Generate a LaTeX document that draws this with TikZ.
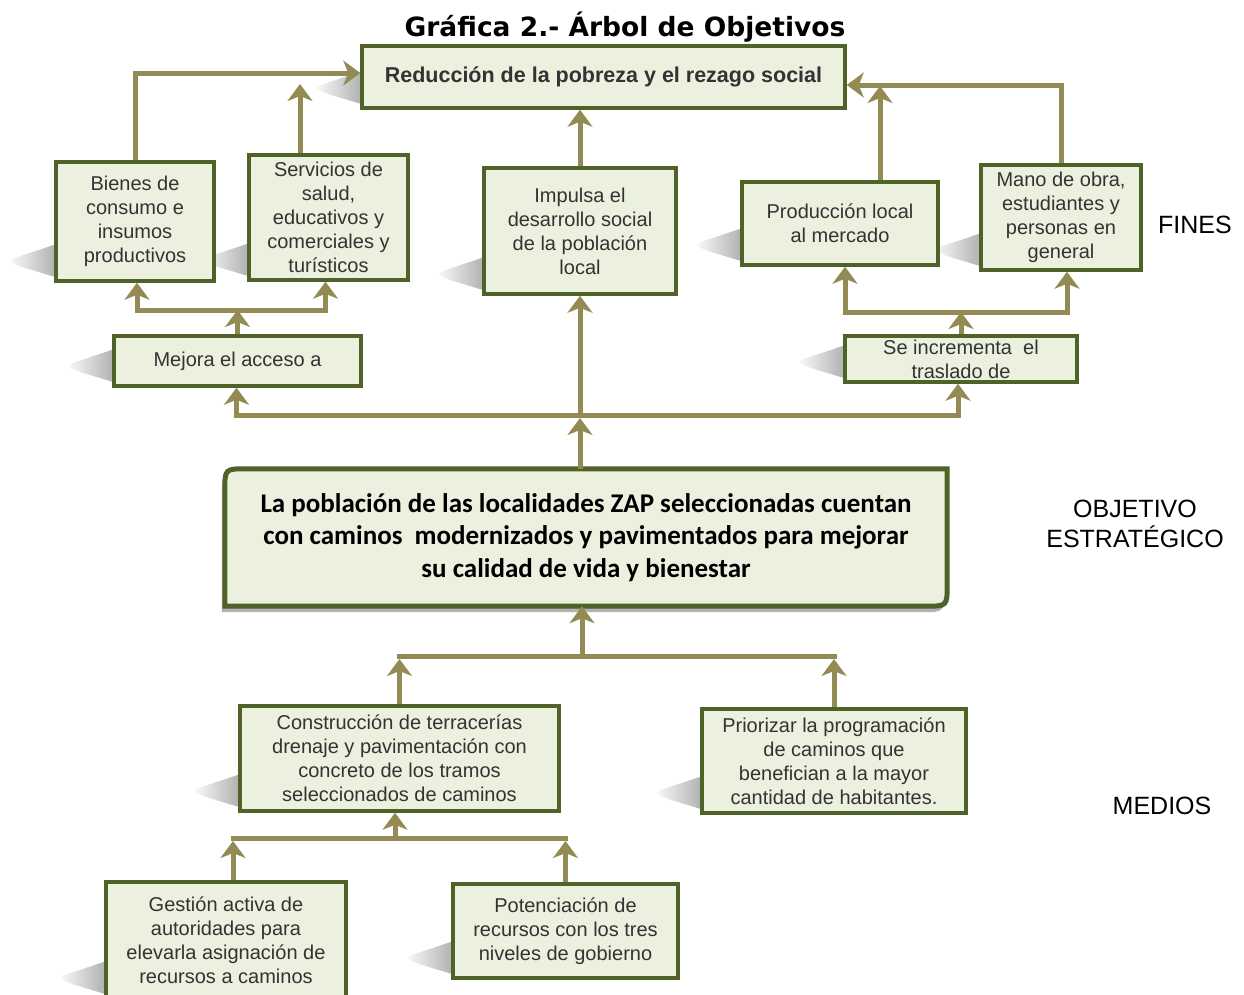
\documentclass[tikz,border=0pt]{standalone}
\usepackage{fontspec}
\setmainfont{Liberation Sans}
\newfontfamily\titlefont{DejaVu Sans}
\newfontfamily\calfont{Carlito}
\usepackage{tikz}
\usetikzlibrary{calc,arrows.meta,backgrounds}

\definecolor{boxline}{HTML}{4F6228}
\definecolor{boxfill}{HTML}{EBF1DE}
\definecolor{arrowc}{HTML}{948A54}
\definecolor{boxtext}{HTML}{333333}

\tikzset{
	box/.style={draw=boxline, line width=3.5pt, fill=boxfill, align=center, inner sep=0pt, text=boxtext, font=\fontsize{20}{24}\selectfont},
	arr/.style={draw=arrowc, line width=5pt, -{Stealth[length=17pt,width=25pt,inset=5pt]}},
	bar/.style={draw=arrowc, line width=5pt},
	side/.style={align=center, font=\fontsize{25}{30}\selectfont}
}
%perspective shadow on the left
\newcommand{\pshadow}[1]{%
	\shade[left color=white, right color=black!30] ($(#1.south west)+(0,-38)$) -- ($(#1.south west)+(-30,-28)$) .. controls ($(#1.south west)+(-48,-22)$) .. ($(#1.south west)+(-30,-15)$) -- ($(#1.south west)+(0,-6)$) -- cycle;}

\begin{document}
\begin{tikzpicture}[x=1pt,y=-1pt]
	\useasboundingbox (0,0) rectangle (1244,994);
	
	\node (title) at (625,27) {\titlefont\bfseries\fontsize{26.5}{30}\selectfont Gráfica 2.- Árbol de Objetivos};
	
	%fines
	\node[box, minimum width=483pt, minimum height=62pt, font=\bfseries\fontsize{21.5}{26}\selectfont] (red) at (603.5,77) {Reducción de la pobreza y el rezago social};
	\node[box, minimum width=158pt, minimum height=119pt] (bienes) at (135,221.5) {Bienes de\\consumo e\\insumos\\productivos};
	\node[box, minimum width=159pt, minimum height=125pt] (serv) at (328.5,217.5) {Servicios de\\salud,\\educativos y\\comerciales y\\turísticos};
	\node[box, minimum width=192pt, minimum height=126pt] (impulsa) at (580,231) {Impulsa el\\desarrollo social\\de la población\\local};
	\node[box, minimum width=196pt, minimum height=83pt] (prod) at (840,223.5) {Producción local\\al mercado};
	\node[box, minimum width=160pt, minimum height=105pt] (mano) at (1061,217.5) {Mano de obra,\\estudiantes y\\personas en\\general};
	\node[box, minimum width=247pt, minimum height=50pt] (mejora) at (237.5,361) {Mejora el acceso a};
	\node[box, minimum width=232pt, minimum height=46pt] (incr) at (961,359) {Se incrementa\ \ el\\traslado de};
	
	%objetivo
	\node[minimum width=722pt, minimum height=137pt, align=center, inner sep=0pt, font=\calfont\bfseries\fontsize{27}{32.5}\selectfont] (obj) at (586,537.5) {La población de las localidades ZAP seleccionadas cuentan\\con caminos\ \ modernizados y pavimentados para mejorar\\su calidad de vida y bienestar};
	
	%medios
	\node[box, minimum width=319pt, minimum height=105pt] (constr) at (399.5,758.5) {Construcción de terracerías\\drenaje y pavimentación con\\concreto de los tramos\\seleccionados de caminos};
	\node[box, minimum width=264pt, minimum height=104pt] (prior) at (834,761) {Priorizar la programación\\de caminos que\\benefician a la mayor\\cantidad de habitantes.};
	\node[box, minimum width=240pt, minimum height=116pt] (gestion) at (226,940) {Gestión activa de\\autoridades para\\elevarla asignación de\\recursos a caminos};
	\node[box, minimum width=225pt, minimum height=94pt] (poten) at (565.5,931) {Potenciación de\\recursos con los tres\\niveles de gobierno};
	
	%labels on the right
	\node[side] (fines) at (1195,225) {FINES};
	\node[side] (estr) at (1135,524) {OBJETIVO\\ESTRATÉGICO};
	\node[side] (medios) at (1162,806) {MEDIOS};
	
	\begin{scope}[on background layer]
		\foreach \b in {red,bienes,serv,impulsa,prod,mano,mejora,incr,constr,prior,gestion,poten}{
			\pshadow{\b}
		}
		%objetivo box, two round corners
		\fill[black!30] ($(obj.north west)+(-3,28)$) .. controls ($(obj.north west)+(-3,6)$) .. ($(obj.north west)+(19,6)$) -- ($(obj.north east)+(-3,6)$) -- ($(obj.south east)+(-3,-16)$) .. controls ($(obj.south east)+(-3,6)$) .. ($(obj.south east)+(-25,6)$) -- ($(obj.south west)+(-3,6)$) -- cycle;
		\filldraw[draw=boxline, fill=boxfill, line width=5pt] ($(obj.north west)+(0,22)$) .. controls (obj.north west) .. ($(obj.north west)+(22,0)$) -- (obj.north east) -- ($(obj.south east)+(0,-22)$) .. controls (obj.south east) .. ($(obj.south east)+(-22,0)$) -- (obj.south west) -- cycle;
	\end{scope}
	
	%upper connectors
	\coordinate (s1) at (300,84);
	\coordinate (p1) at (880,86);
	\draw[arr] (bienes.north) |- ([yshift=4pt]red.west);
	\draw[arr] (serv.north -| s1) -- (s1);
	\draw[arr] (impulsa.north) -- (impulsa.north |- red.south);
	\draw[arr] (prod.north -| p1) -- (p1);
	\draw[arr] (mano.north) |- ([yshift=-8pt]red.east);
	
	%forks
	\coordinate (m1) at (237.5,310);
	\coordinate (i1) at (961,312);
	\coordinate (o1) at (580,415);
	\draw[arr] (mejora.north) -- (m1);
	\draw[arr] (m1) -| ([xshift=2pt]bienes.south);
	\draw[arr] (m1) -| ([xshift=-3pt]serv.south);
	\draw[arr] (incr.north) -- (i1);
	\draw[arr] (i1) -| ([xshift=5pt]prod.south);
	\draw[arr] (i1) -| ([xshift=6pt]mano.south);
	\draw[arr] (o1) -| ([xshift=-1pt]mejora.south);
	\draw[arr] (o1) -| ([xshift=-3pt]incr.south);
	\draw[arr] (o1) -- (impulsa.south);
	\draw[arr] (obj.north -| o1) -- ([yshift=-3pt]o1);
	
	%lower connectors
	\coordinate (b1) at (582,656);
	\coordinate (g1) at (395,838);
	\draw[bar] ([xshift=-2.5pt]constr.north |- b1) -- ([xshift=2.5pt]prior.north |- b1);
	\draw[arr] (b1) -- (b1 |- obj.south);
	\draw[arr] (constr.north) -- ([yshift=-3pt]constr.north |- b1);
	\draw[arr] (prior.north) -- ([yshift=-3pt]prior.north |- b1);
	\draw[bar] ([xshift=4.5pt]gestion.north |- g1) -- ([xshift=2.5pt]poten.north |- g1);
	\draw[arr] (g1) -- (g1 |- constr.south);
	\draw[arr] ([xshift=7pt]gestion.north) -- ([xshift=7pt,yshift=-3pt]gestion.north |- g1);
	\draw[arr] (poten.north) -- ([yshift=-3pt]poten.north |- g1);
\end{tikzpicture}
\end{document}
